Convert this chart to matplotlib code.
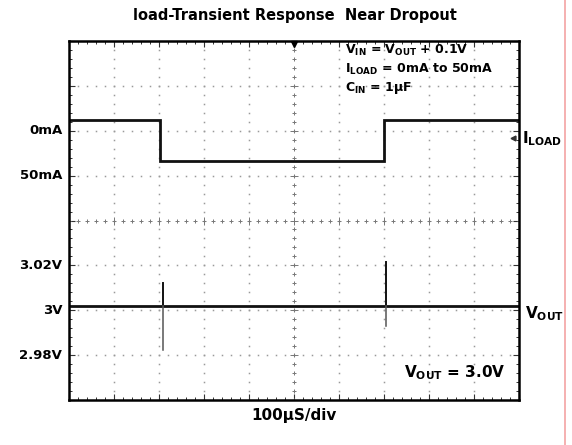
import numpy as np
import matplotlib
matplotlib.use('Agg')
import matplotlib.pyplot as plt
from matplotlib.ticker import MultipleLocator
from matplotlib.lines import Line2D

plt.rcParams['font.family'] = ['DejaVu Sans']
plt.rcParams['font.weight'] = 'bold'
plt.rcParams['mathtext.fontset'] = 'custom'
plt.rcParams['mathtext.rm'] = 'DejaVu Sans:bold'
plt.rcParams['mathtext.it'] = 'DejaVu Sans:bold'
plt.rcParams['mathtext.bf'] = 'DejaVu Sans:bold'

# Scope screen: time in microseconds (100 us/div), vertical in screen divisions
ILOAD_T = [0, 201, 201, 699, 699, 1000]
ILOAD_DIV = [6.24, 6.24, 5.32, 5.32, 6.24, 6.24]

VOUT_T = [0, 1000]
VOUT_DIV = [2.09, 2.09]

# Vout transient spikes at the load steps
SPIKE_T = [207, 703]
SPIKE_TOP = [2.61, 3.08]
SPIKE_BOT = [1.12, 1.65]

# Left-hand level labels and their division positions
LEVEL_LABELS = ['0mA', '50mA', '3.02V', '3V', '2.98V']
LEVEL_DIV = [6, 5, 3, 2, 1]

fig = plt.figure(figsize=(5.72, 4.45), dpi=100)
ax = fig.add_axes([0.1215, 0.1011, 0.7867, 0.8067])
ax.set_xlim(0, 1000)
ax.set_ylim(0, 8)

# Graticule: dotted lines with a dot every 1/5 division
grid_col = '#9a9a9a'
xs_dots = np.arange(0, 1001, 20)
ys_dots = np.arange(0, 8.01, 0.2)
for gy in range(1, 8):
    if gy == 4:
        continue
    ax.plot(xs_dots, np.full_like(xs_dots, gy, dtype=float), ls='none',
            marker='s', ms=1.1, color=grid_col, mew=0)
for gx in range(100, 1000, 100):
    if gx == 500:
        continue
    ax.plot(np.full_like(ys_dots, gx), ys_dots, ls='none',
            marker='s', ms=1.1, color=grid_col, mew=0)

# Centre cross with small tick marks
ax.plot(xs_dots, np.full_like(xs_dots, 4, dtype=float), ls='none',
        marker='+', ms=3.5, mew=0.7, color='#777777')
ax.plot(np.full_like(ys_dots, 500), ys_dots, ls='none',
        marker='+', ms=3.5, mew=0.7, color='#777777')
ax.plot(np.arange(0, 1001, 100), np.full(11, 4.0), ls='none',
        marker='|', ms=6, mew=0.7, color='#777777')
ax.plot(np.full(9, 500), np.arange(0, 8.01, 1), ls='none',
        marker='_', ms=6, mew=0.7, color='#777777')

# Traces
ax.plot(ILOAD_T, ILOAD_DIV, color='#111111', lw=2.0, solid_joinstyle='miter')
ax.plot(VOUT_T, VOUT_DIV, color='#111111', lw=2.0)
for t, top, bot in zip(SPIKE_T, SPIKE_TOP, SPIKE_BOT):
    ax.plot([t, t], [VOUT_DIV[0], top], color='#111111', lw=1.4)
    ax.plot([t, t], [bot, VOUT_DIV[0]], color='#555555', lw=1.1)

# Trigger marker at top centre and channel marker on the right edge
ax.plot([500], [7.93], marker='v', ms=5, color='black', clip_on=False)
ax.plot([985], [5.85], marker='<', ms=3.5, color='#333333')

# Frame with inward ticks
for sp in ax.spines.values():
    sp.set_linewidth(1.8)
ax.set_xticks(np.arange(0, 1001, 100))
ax.set_yticks(np.arange(0, 8.01, 1))
ax.xaxis.set_minor_locator(MultipleLocator(20))
ax.yaxis.set_minor_locator(MultipleLocator(0.2))
ax.tick_params(which='both', direction='in', top=True, right=True,
               labelbottom=False, labelleft=False, color='#333333')
ax.tick_params(which='major', length=4, width=0.8)
ax.tick_params(which='minor', length=2.5, width=0.7)

# Level labels on the left
for lab, yd in zip(LEVEL_LABELS, LEVEL_DIV):
    ax.text(-0.016, yd, lab, transform=ax.get_yaxis_transform(),
            ha='right', va='center', fontsize=9.5)

# Right-hand trace labels
ax.text(1.006, 5.82, r'I$_{\mathrm{LOAD}}$', transform=ax.get_yaxis_transform(),
        ha='left', va='center', fontsize=11)
ax.text(1.012, 1.93, r'V$_{\mathrm{OUT}}$', transform=ax.get_yaxis_transform(),
        ha='left', va='center', fontsize=11)

# Test conditions
cond = [r'V$_{\mathrm{IN}}$ = V$_{\mathrm{OUT}}$ + 0.1V',
        r'I$_{\mathrm{LOAD}}$ = 0mA to 50mA',
        r'C$_{\mathrm{IN}}$ = 1$\mu$F']
for i, s in enumerate(cond):
    ax.text(612, 7.78 - i * 0.41, s, ha='left', va='center', fontsize=9)
ax.text(968, 0.6, r'V$_{\mathrm{OUT}}$ = 3.0V', ha='right', va='center',
        fontsize=11)

ax.set_title('load-Transient Response  Near Dropout', fontsize=10.5,
             fontweight='bold', pad=15)
ax.text(0.5, -0.022, '100\u00b5S/div', transform=ax.transAxes,
        ha='center', va='top', fontsize=11)

# Page edge line at the right of the source image
fig.add_artist(Line2D([565 / 572, 565 / 572], [0, 1], color='#f4a3a3', lw=1.2))

fig.savefig('out.png', dpi=100)
